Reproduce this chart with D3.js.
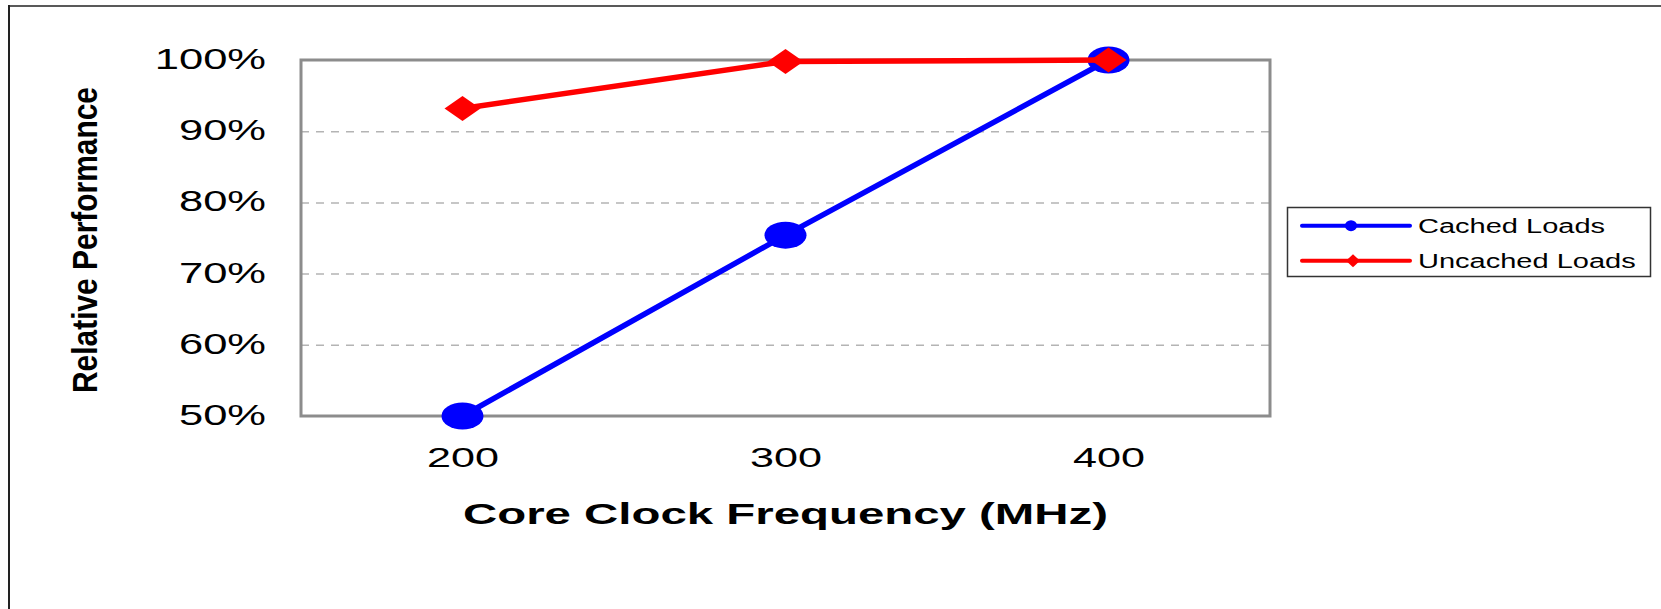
<!DOCTYPE html>
<html>

<head>
    <title>Relative Performance</title>
    <script src="https://d3js.org/d3.v7.min.js"></script>
    <style>
        body {
            margin: 0;
            background: #fff;
        }

        text {
            font-family: "Liberation Sans", Arial, sans-serif;
            fill: #000;
        }

        .grid line {
            stroke: #b4b4b4;
            stroke-width: 1.5px;
            stroke-dasharray: 8 7;
        }
    </style>
</head>

<body>
    <div id="chart"></div>
    <script>
        // data
        const frequencies = ["200", "300", "400"];
        const cachedLoads = [50, 75.4, 100];
        const uncachedLoads = [93.2, 99.8, 100];
        const yTicks = [50, 60, 70, 80, 90, 100];
        const seriesNames = ["Cached Loads", "Uncached Loads"];

        const width = 1661, height = 609;
        const plot = { left: 301, right: 1270, top: 60, bottom: 416 };

        const svg = d3.select("#chart")
            .append("svg")
            .attr("width", width)
            .attr("height", height);

        // stretch text horizontally, the original picture is widened
        function stretch(sel, k) {
            sel.each(function () {
                const w = this.getComputedTextLength();
                this.setAttribute("textLength", w * k);
                this.setAttribute("lengthAdjust", "spacingAndGlyphs");
            });
        }

        // outer frame (only left and top edges are visible)
        svg.append("line").attr("x1", 9).attr("x2", 9).attr("y1", 5).attr("y2", height)
            .attr("stroke", "#222").attr("stroke-width", 2);
        svg.append("line").attr("x1", 8).attr("x2", width).attr("y1", 6).attr("y2", 6)
            .attr("stroke", "#222").attr("stroke-width", 1.5);

        const x = d3.scalePoint()
            .domain(frequencies)
            .range([plot.left, plot.right])
            .padding(0.5);

        const y = d3.scaleLinear()
            .domain([50, 100])
            .range([plot.bottom, plot.top]);

        // gridlines
        svg.append("g")
            .attr("class", "grid")
            .attr("transform", `translate(${plot.left},0)`)
            .call(d3.axisLeft(y).tickValues(yTicks.filter(d => d > 50 && d < 100))
                .tickSize(-(plot.right - plot.left)).tickFormat(""))
            .call(g => g.select(".domain").remove());

        // plot frame
        svg.append("rect")
            .attr("x", plot.left)
            .attr("y", plot.top)
            .attr("width", plot.right - plot.left)
            .attr("height", plot.bottom - plot.top)
            .attr("fill", "none")
            .attr("stroke", "#8c8c8c")
            .attr("stroke-width", 3);

        // y axis labels
        const yAxis = svg.append("g")
            .attr("transform", `translate(${plot.left},0)`)
            .call(d3.axisLeft(y).tickValues(yTicks).tickSize(0).tickPadding(35)
                .tickFormat(d => d + "%"));
        yAxis.select(".domain").remove();
        yAxis.selectAll("text")
            .attr("font-size", 29)
            .attr("font-family", "Liberation Sans, Arial, sans-serif")
            .attr("fill", "#000")
            .attr("dy", "0.29em")
            .call(stretch, 1.5);

        // x axis labels
        const xAxis = svg.append("g")
            .attr("transform", `translate(0,${plot.bottom})`)
            .call(d3.axisBottom(x).tickSize(0).tickPadding(31));
        xAxis.select(".domain").remove();
        xAxis.selectAll("text")
            .attr("font-size", 28)
            .attr("font-family", "Liberation Sans, Arial, sans-serif")
            .attr("fill", "#000")
            .call(stretch, 1.54);

        // axis titles
        svg.append("text")
            .attr("x", (plot.left + plot.right) / 2)
            .attr("y", 524)
            .attr("text-anchor", "middle")
            .attr("font-size", 29)
            .attr("font-weight", "bold")
            .attr("textLength", 645)
            .attr("lengthAdjust", "spacingAndGlyphs")
            .text("Core Clock Frequency (MHz)");

        svg.append("text")
            .attr("transform", "translate(97,240) rotate(-90)")
            .attr("text-anchor", "middle")
            .attr("font-size", 35)
            .attr("font-weight", "bold")
            .attr("textLength", 306)
            .attr("lengthAdjust", "spacingAndGlyphs")
            .text("Relative Performance");

        const line = d3.line()
            .x((d, i) => x(frequencies[i]))
            .y(d => y(d));

        const diamond = (cx, cy, rx, ry) =>
            `M${cx - rx},${cy}L${cx},${cy - ry}L${cx + rx},${cy}L${cx},${cy + ry}Z`;

        // cached loads
        svg.append("path")
            .datum(cachedLoads)
            .attr("d", line)
            .attr("fill", "none")
            .attr("stroke", "#0000ff")
            .attr("stroke-width", 5.5);
        svg.selectAll(".cached")
            .data(cachedLoads)
            .join("ellipse")
            .attr("class", "cached")
            .attr("cx", (d, i) => x(frequencies[i]))
            .attr("cy", d => y(d))
            .attr("rx", 21)
            .attr("ry", 13.5)
            .attr("fill", "#0000ff");

        // uncached loads
        svg.append("path")
            .datum(uncachedLoads)
            .attr("d", line)
            .attr("fill", "none")
            .attr("stroke", "#ff0000")
            .attr("stroke-width", 5.5);
        svg.selectAll(".uncached")
            .data(uncachedLoads)
            .join("path")
            .attr("class", "uncached")
            .attr("d", (d, i) => diamond(x(frequencies[i]), y(d), 18, 12.5))
            .attr("fill", "#ff0000");

        // legend
        const legend = svg.append("g");
        legend.append("rect")
            .attr("x", 1287.5)
            .attr("y", 207.5)
            .attr("width", 363)
            .attr("height", 69)
            .attr("fill", "#fff")
            .attr("stroke", "#333")
            .attr("stroke-width", 1.5);

        const colors = ["#0000ff", "#ff0000"];
        seriesNames.forEach((name, i) => {
            const ly = 225.7 + i * 35;
            legend.append("line")
                .attr("x1", 1302).attr("x2", 1410)
                .attr("y1", ly).attr("y2", ly)
                .attr("stroke", colors[i])
                .attr("stroke-width", 4)
                .attr("stroke-linecap", "round");
            if (i === 0) {
                legend.append("ellipse")
                    .attr("cx", 1351).attr("cy", ly)
                    .attr("rx", 6).attr("ry", 5.5)
                    .attr("fill", colors[i]);
            } else {
                legend.append("path")
                    .attr("d", diamond(1353, ly, 7, 6.5))
                    .attr("fill", colors[i]);
            }
            legend.append("text")
                .attr("x", 1418)
                .attr("y", ly + 7)
                .attr("font-size", 20)
                .text(name)
                .call(stretch, 1.45);
        });
    </script>

</body>

</html>
